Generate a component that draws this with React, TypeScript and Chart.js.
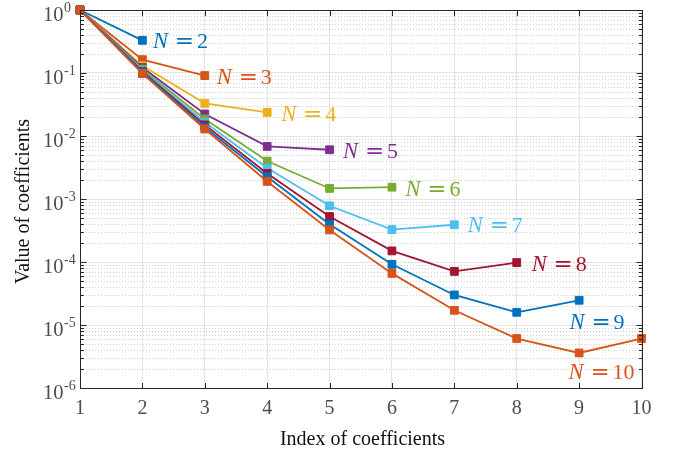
import React, { useEffect, useRef } from "react";
import { Chart, registerables } from "chart.js";

Chart.register(...registerables);

// ---------------- data ----------------
const coefficientIndex = [1, 2, 3, 4, 5, 6, 7, 8, 9, 10];
const orders = [2, 3, 4, 5, 6, 7, 8, 9, 10];

const coeffN2 = [1, 0.33];
const coeffN3 = [1, 0.163, 0.091];
const coeffN4 = [1, 0.13, 0.033, 0.0237];
const coeffN5 = [1, 0.122, 0.0224, 0.00684, 0.00605];
const coeffN6 = [1, 0.115, 0.0186, 0.004, 0.00147, 0.00154];
const coeffN7 = [1, 0.11, 0.0165, 0.0031, 0.00078, 0.000327, 0.00039];
const coeffN8 = [1, 0.106, 0.015, 0.00254, 0.000527, 0.00015, 0.000071, 0.000098];
const coeffN9 = [1, 0.103, 0.0138, 0.00225, 0.000398, 0.000092, 0.00003, 0.0000159, 0.0000247];
const coeffN10 = [1, 0.098, 0.0129, 0.0019, 0.000323, 0.000066, 0.0000171, 0.0000061, 0.0000036, 0.0000061];

const allSeries = [coeffN2, coeffN3, coeffN4, coeffN5, coeffN6, coeffN7, coeffN8, coeffN9, coeffN10];

const xTickLabels = ["1", "2", "3", "4", "5", "6", "7", "8", "9", "10"];
const yTickExponents = [-6, -5, -4, -3, -2, -1, 0];
const xAxisTitle = "Index of coefficients";
const yAxisTitle = "Value of coefficients";

// ---------------- styles ----------------
const seriesColors = [
  "#0072BD",
  "#D95319",
  "#EDB120",
  "#7E2F8E",
  "#77AC30",
  "#4DBEEE",
  "#A2142F",
  "#0072BD",
  "#D95319",
];
// [anchor point index, dx, dy] in pixels for the "N = k" annotations
const labelPlacement: [number, number, number][] = [
  [1, 10.5, 0],
  [2, 12, 1],
  [3, 14, 1],
  [4, 13.5, 1],
  [5, 13.5, 1],
  [6, 13.5, 0],
  [7, 15, 0.5],
  [8, -9.5, 21],
  [8, -10.5, 19],
];

const AXIS_COLOR = "#262626";
const TICK_TEXT = "#4d4d4d";
const SERIF = "'Liberation Serif', 'Times New Roman', serif";

const decorPlugin = {
  id: "decor",
  beforeDatasetsDraw(chart: any) {
    const { ctx, chartArea: a, scales } = chart;
    const ys = scales.y;
    ctx.save();
    ctx.strokeStyle = "rgba(38,38,38,0.22)";
    ctx.lineWidth = 1;
    ctx.setLineDash([1, 2]);
    for (const e of yTickExponents) {
      if (e === 0) continue;
      for (let m = 2; m <= 9; m++) {
        const py = Math.round(ys.getPixelForValue(m * Math.pow(10, e))) + 0.5;
        ctx.beginPath();
        ctx.moveTo(a.left, py);
        ctx.lineTo(a.right, py);
        ctx.stroke();
      }
    }
    ctx.restore();
  },
  afterDraw(chart: any) {
    const { ctx, chartArea: a, scales } = chart;
    const xs = scales.x;
    const ys = scales.y;
    const L = Math.round(a.left) + 0.5;
    const R = Math.round(a.right) + 0.5;
    const T = Math.round(a.top) + 0.5;
    const B = Math.round(a.bottom) + 0.5;
    ctx.save();
    ctx.setLineDash([]);
    ctx.strokeStyle = AXIS_COLOR;
    ctx.lineWidth = 1;
    ctx.strokeRect(L, T, R - L, B - T);

    // inward tick marks
    ctx.beginPath();
    coefficientIndex.forEach((v) => {
      const px = Math.round(xs.getPixelForValue(v)) + 0.5;
      ctx.moveTo(px, B);
      ctx.lineTo(px, B - 5.5);
      ctx.moveTo(px, T);
      ctx.lineTo(px, T + 5.5);
    });
    yTickExponents.forEach((e) => {
      const py = Math.round(ys.getPixelForValue(Math.pow(10, e))) + 0.5;
      ctx.moveTo(L, py);
      ctx.lineTo(L + 6, py);
      ctx.moveTo(R, py);
      ctx.lineTo(R - 6, py);
      if (e === 0) return;
      for (let m = 2; m <= 9; m++) {
        const pm = Math.round(ys.getPixelForValue(m * Math.pow(10, e))) + 0.5;
        ctx.moveTo(L, pm);
        ctx.lineTo(L + 3.5, pm);
        ctx.moveTo(R, pm);
        ctx.lineTo(R - 3.5, pm);
      }
    });
    ctx.stroke();

    // x tick labels
    ctx.fillStyle = TICK_TEXT;
    ctx.font = `20px ${SERIF}`;
    ctx.textAlign = "center";
    ctx.textBaseline = "alphabetic";
    coefficientIndex.forEach((v, i) => {
      ctx.fillText(xTickLabels[i], xs.getPixelForValue(v), a.bottom + 25.5);
    });

    // y tick labels 10^e
    yTickExponents.forEach((e) => {
      const py = ys.getPixelForValue(Math.pow(10, e));
      ctx.font = `20.5px ${SERIF}`;
      ctx.textAlign = "right";
      ctx.fillText("10", a.left - 16.5, py + 11.3);
      ctx.font = `14px ${SERIF}`;
      ctx.textAlign = "left";
      ctx.fillText(String(e), a.left - 16, py + 1.8);
    });

    // axis titles
    ctx.fillStyle = "#111111";
    ctx.font = `20px ${SERIF}`;
    ctx.textAlign = "center";
    ctx.fillText(xAxisTitle, 362.5, a.bottom + 57);
    ctx.save();
    ctx.translate(28.5, 201.5);
    ctx.rotate(-Math.PI / 2);
    ctx.fillText(yAxisTitle, 0, 0);
    ctx.restore();

    // N = k annotations
    orders.forEach((n, i) => {
      const [idx, dx, dy] = labelPlacement[i];
      const px = xs.getPixelForValue(coefficientIndex[idx]) + dx;
      const py = ys.getPixelForValue(allSeries[i][idx]) + dy;
      const base = py + 7.5;
      ctx.fillStyle = seriesColors[i];
      ctx.textAlign = "left";
      ctx.font = `italic 22.5px ${SERIF}`;
      ctx.fillText("N", px, base);
      ctx.font = "23px 'DejaVu Serif'";
      ctx.textAlign = "center";
      ctx.fillText("=", px + 31.5, base);
      ctx.font = `22px ${SERIF}`;
      ctx.textAlign = "left";
      ctx.fillText(String(n), px + 44, base);
    });
    ctx.restore();
  },
};

export default function App() {
  const canvasRef = useRef<HTMLCanvasElement | null>(null);

  useEffect(() => {
    document.body.style.margin = "0";
    const canvas = canvasRef.current;
    if (!canvas) return;
    const datasets = allSeries.map((vals, i) => ({
      label: `N = ${orders[i]}`,
      data: vals.map((v, j) => ({ x: coefficientIndex[j], y: v })),
      borderColor: seriesColors[i],
      backgroundColor: seriesColors[i],
      borderWidth: 1.8,
      pointStyle: "rect" as const,
      pointRadius: 5.5,
      pointBorderWidth: 1,
      pointBackgroundColor: seriesColors[i],
      pointBorderColor: seriesColors[i],
      tension: 0,
      clip: false as any,
      order: 10 - orders[i],
    }));

    const chart = new Chart(canvas, {
      type: "line",
      data: { datasets },
      options: {
        responsive: false,
        animation: false,
        events: [],
        layout: { padding: { left: 80, right: 36.5, top: 10, bottom: 67 } },
        plugins: {
          legend: { display: false },
          tooltip: { enabled: false },
          title: { display: false },
        },
        scales: {
          x: {
            type: "linear",
            min: 1,
            max: 10,
            ticks: { display: false, stepSize: 1 },
            border: { display: false },
            grid: { color: "rgba(38,38,38,0.12)", lineWidth: 1, drawTicks: false },
            title: { display: false },
          },
          y: {
            type: "logarithmic",
            min: 1e-6,
            max: 1,
            ticks: { display: false },
            border: { display: false },
            grid: {
              drawTicks: false,
              lineWidth: 1,
              color: (c: any) => {
                const v = c.tick ? c.tick.value : 0;
                const l = Math.log10(v);
                return Math.abs(l - Math.round(l)) < 1e-6 ? "rgba(38,38,38,0.12)" : "rgba(0,0,0,0)";
              },
            },
            title: { display: false },
          },
        },
      },
      plugins: [decorPlugin],
    });
    return () => chart.destroy();
  }, []);

  return (
    <div style={{ position: "absolute", left: 0, top: 0, width: 678, height: 455, background: "#fff" }}>
      <canvas ref={canvasRef} width={678} height={455} />
    </div>
  );
}
